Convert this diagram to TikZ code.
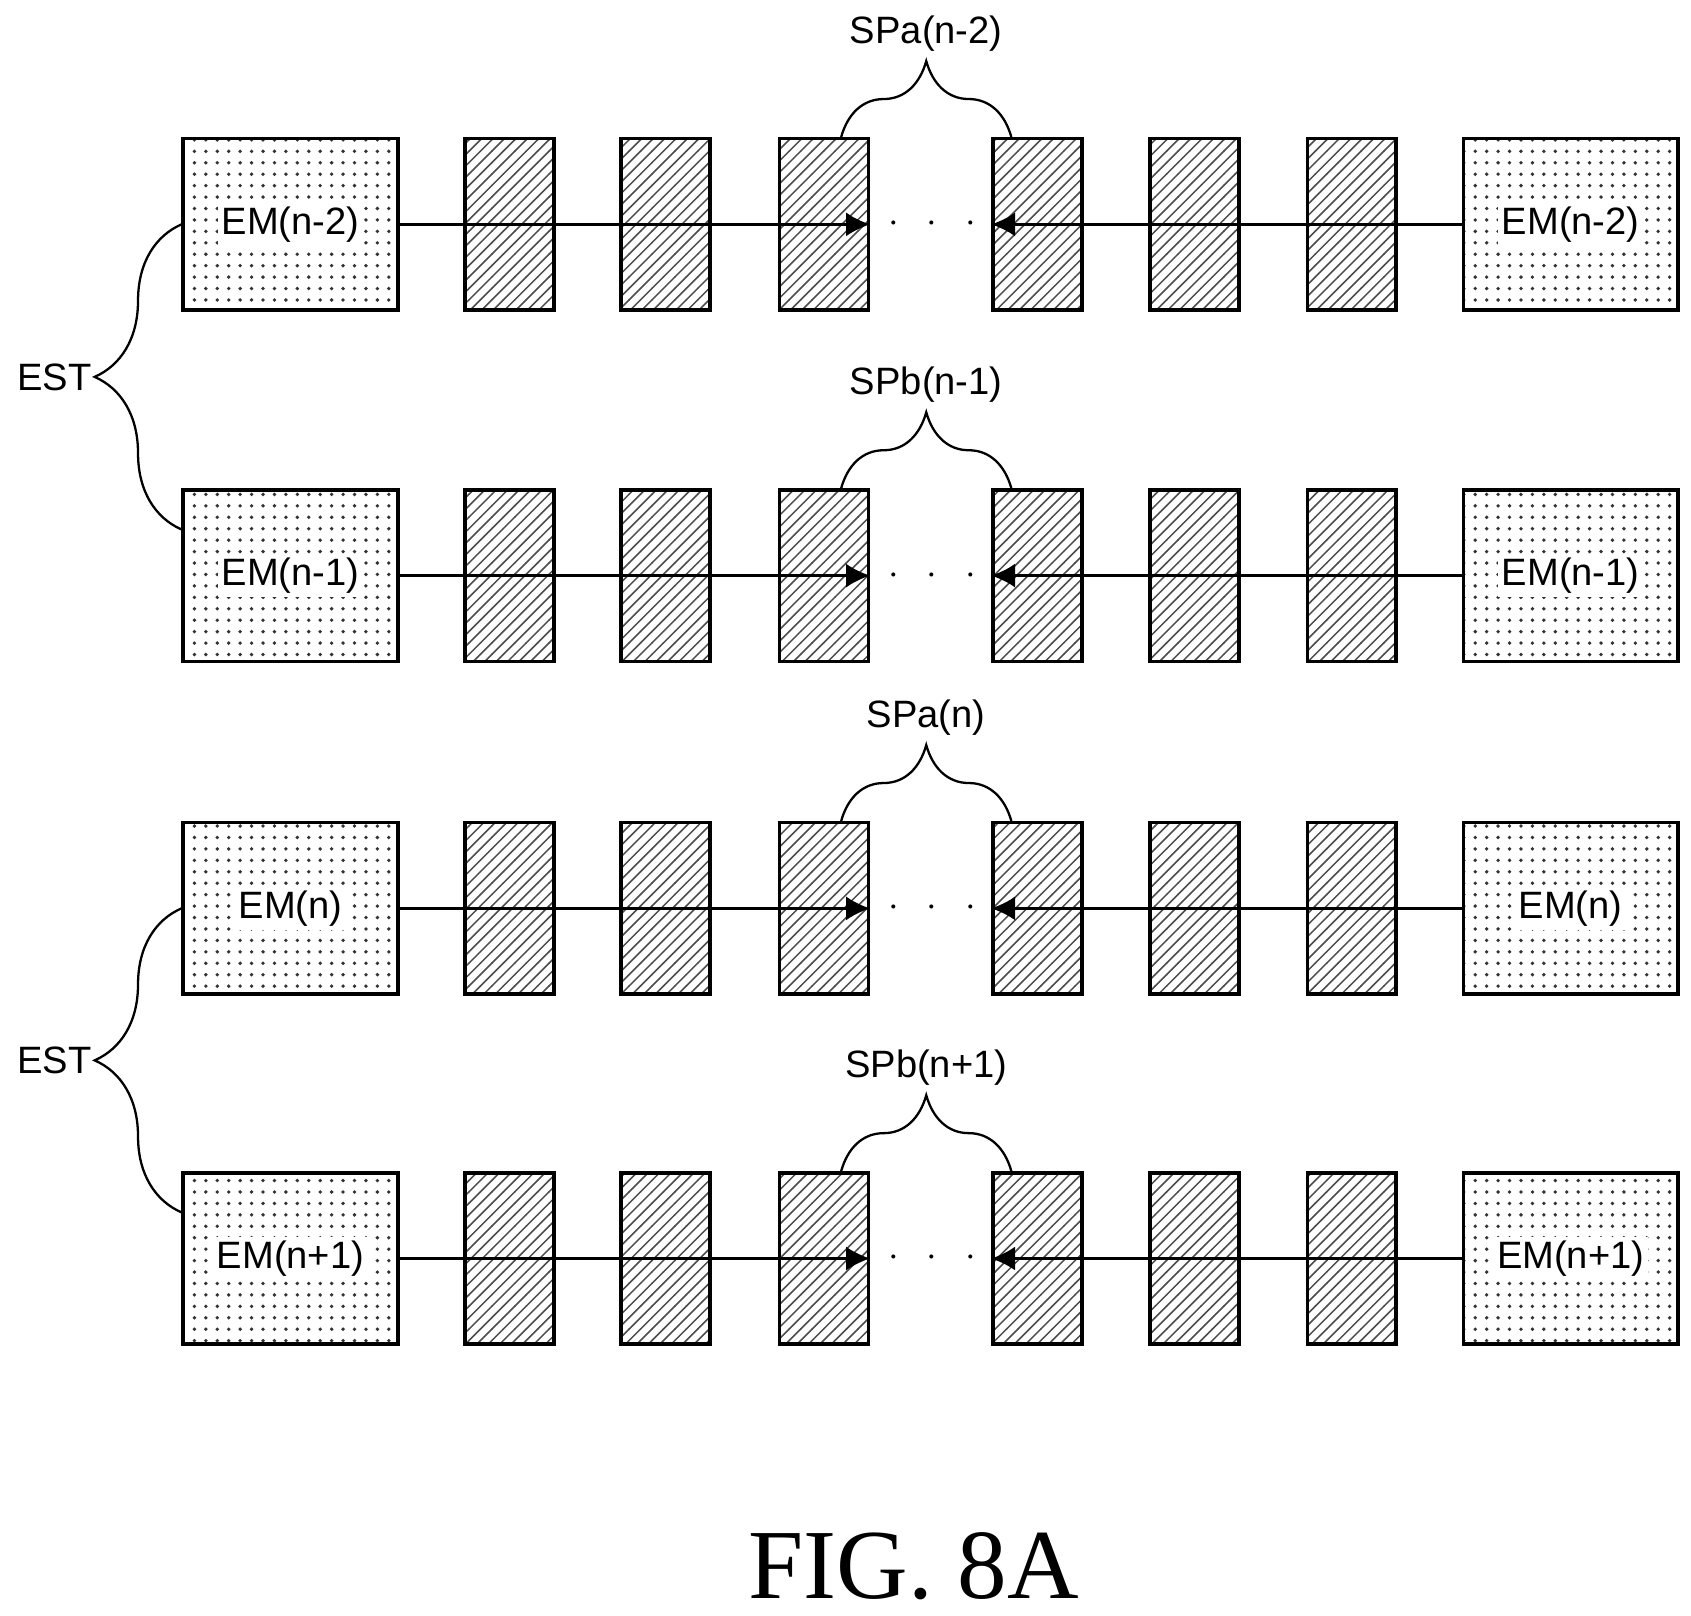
\documentclass[tikz,border=0pt]{standalone}
\usepackage{fontspec}
\setmainfont{Liberation Sans}
\newfontfamily\figfont{Liberation Serif}
\usetikzlibrary{patterns,decorations.pathreplacing,arrows.meta}
\begin{document}
\begin{tikzpicture}[
        x=0.01cm, y=-0.01cm,
        font=\fontsize{10}{12}\selectfont
    ]
    \tikzset{
        emnode/.style = {rectangle, draw=black, line width=0.9pt, pattern=dots, pattern color=black!80, minimum width=1.98cm, minimum height=1.58cm},
        hatchnode/.style = {rectangle, draw=black, line width=0.9pt, pattern=north east lines, pattern color=black!70, minimum width=0.82cm, minimum height=1.58cm},
        feed/.style = {line width=0.6pt, -{Latex[length=2.2mm,width=2.2mm]}},
        spbrace/.style = {decorate, decoration={brace, amplitude=0.7cm}, line width=0.6pt},
        estbrace/.style = {decorate, decoration={brace, amplitude=0.8cm, mirror}, line width=0.6pt},
    }
    \useasboundingbox (0,0) rectangle (1560,1490);
    \foreach \r/\y/\lab/\sp in {1/207/n-2/SPa(n-2), 2/531/n-1/SPb(n-1), 3/838/n/SPa(n), 4/1161/n+1/SPb(n+1)} {
        \node[emnode] (emL\r) at (268,\y) {};
        \node[emnode] (emR\r) at (1449,\y) {};
        \foreach \i/\x in {1/470, 2/614, 3/760, 4/957, 5/1102, 6/1247}
            \node[hatchnode] (h\r\i) at (\x,\y) {};
        \node[fill=white, inner sep=1pt] at (emL\r) {EM(\lab)};
        \node[fill=white, inner sep=1pt] at (emR\r) {EM(\lab)};
        \draw[feed] (emL\r.east) -- (h\r3.east);
        \draw[feed] (emR\r.west) -- (h\r4.west);
        \node (dots\r) at (860,\y) {$\cdot$\hspace{2.6mm}$\cdot$\hspace{2.6mm}$\cdot$};
        \draw[spbrace] ([xshift=0.16cm]h\r3.north) -- ([xshift=-0.24cm]h\r4.north)
            node[midway, above=0.66cm] (sp\r) {\sp};
    }
    % EST braces
    \draw[estbrace] (emL1.west) -- ([yshift=-0.38cm]emL2.north west) node[midway, left=0.82cm, inner sep=0pt] (est1) {EST};
    \draw[estbrace] (emL3.west) -- ([yshift=-0.38cm]emL4.north west) node[midway, left=0.82cm, inner sep=0pt] (est2) {EST};
    \node[font=\figfont\fontsize{26}{30}\selectfont] (fig) at (843,1445) {FIG. 8A};
\end{tikzpicture}
\end{document}
